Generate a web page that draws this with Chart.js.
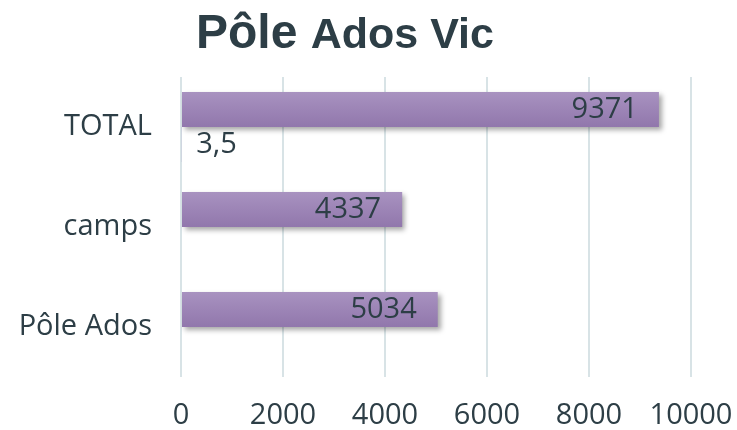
<!DOCTYPE html>
<html>
<head>
<meta charset="utf-8">
<script src="https://cdn.jsdelivr.net/npm/chart.js@4.4.1/dist/chart.umd.min.js"></script>
<style>
html,body{margin:0;padding:0;background:#fff;}
#wrap{width:737px;height:430px;position:relative;}
</style>
</head>
<body>
<div id="wrap"><canvas id="c" width="737" height="430"></canvas></div>
<script>
const titleMain = 'Pôle';
const titleRest = 'Ados Vic';
const categories = ['TOTAL', 'camps', 'Pôle Ados'];
const seriesMain = [9371, 4337, 5034];
const seriesSmall = [3.5, null, null];
const xMin = 0, xMax = 10000, xStep = 2000;

const textColor = '#2d3e46';
const fontFamily = "'Open Sans', 'DejaVu Sans', sans-serif";

function fmt(v){ return String(v).replace('.', ','); }

const titlePlugin = {
  id: 'mixedTitle',
  afterDraw(chart){
    const ctx = chart.ctx;
    ctx.save();
    ctx.fillStyle = textColor;
    ctx.textBaseline = 'alphabetic';
    ctx.textAlign = 'left';
    ctx.font = "bold 48px 'Liberation Sans', Arial, sans-serif";
    let x = 196;
    ctx.fillText(titleMain, x, 48);
    x += ctx.measureText(titleMain + ' ').width;
    ctx.font = "bold 43px 'Liberation Sans', Arial, sans-serif";
    ctx.fillText(titleRest, x, 48);
    ctx.restore();
  }
};

const barStylePlugin = {
  id: 'barStyle',
  beforeDatasetDraw(chart, args){
    const ctx = chart.ctx;
    const meta = args.meta;
    if (args.index === 0) {
      meta.data.forEach(el => {
        if (!el || el.height == null) return;
        const top = el.y - el.height/2, bot = el.y + el.height/2;
        const g = ctx.createLinearGradient(0, top, 0, bot);
        g.addColorStop(0, '#a892c0');
        g.addColorStop(1, '#9177ac');
        el.options = Object.assign({}, el.options, {backgroundColor: g});
      });
    }
    ctx.save();
    if (args.index === 0) {
      ctx.shadowColor = 'rgba(0,0,0,0.35)';
      ctx.shadowBlur = 5;
      ctx.shadowOffsetX = 3;
      ctx.shadowOffsetY = 3;
    }
  },
  afterDatasetDraw(chart){
    chart.ctx.restore();
  },
  afterDatasetsDraw(chart){
    const ctx = chart.ctx;
    ctx.save();
    ctx.fillStyle = textColor;
    ctx.font = "29px " + fontFamily;
    ctx.textBaseline = 'middle';
    chart.data.datasets.forEach((ds, di) => {
      const meta = chart.getDatasetMeta(di);
      meta.data.forEach((el, i) => {
        const v = ds.data[i];
        if (v == null) return;
        if (di === 0) {
          ctx.textAlign = 'right';
          ctx.fillText(fmt(v), el.x - 21, el.y);
        } else {
          ctx.textAlign = 'left';
          ctx.fillText(fmt(v), el.x + 15, el.y);
        }
      });
    });
    ctx.restore();
  }
};

new Chart(document.getElementById('c'), {
  type: 'bar',
  data: {
    labels: categories,
    datasets: [
      {label: 'Série 1', data: seriesMain, backgroundColor: '#9b82b5', borderWidth: 0},
      {label: 'Série 2', data: seriesSmall, backgroundColor: 'rgba(155,130,181,0.15)', borderWidth: 0}
    ]
  },
  options: {
    indexAxis: 'y',
    responsive: false,
    animation: false,
    devicePixelRatio: 1,
    categoryPercentage: 0.7,
    barPercentage: 1.0,
    layout: {padding: {top: 77, right: 46, left: 10, bottom: 0}},
    plugins: {legend: {display: false}, title: {display: false}, tooltip: {enabled: false}},
    scales: {
      x: {
        min: xMin, max: xMax,
        ticks: {stepSize: xStep, color: textColor, font: {size: 29, family: fontFamily}, padding: 21, maxRotation: 0,
          callback: (v) => String(v)},
        grid: {color: '#d8e3e6', lineWidth: 2, drawTicks: false},
        border: {display: false},
        afterFit(s){ s.height = 53; s.paddingRight = 0; s.paddingLeft = 0; }
      },
      y: {
        ticks: {color: textColor, font: {size: 29, family: fontFamily}, padding: 29},
        grid: {display: false, drawTicks: false},
        border: {display: false},
        afterFit(s){ s.width = 171; }
      }
    }
  },
  plugins: [titlePlugin, barStylePlugin]
});
</script>
</body>
</html>
